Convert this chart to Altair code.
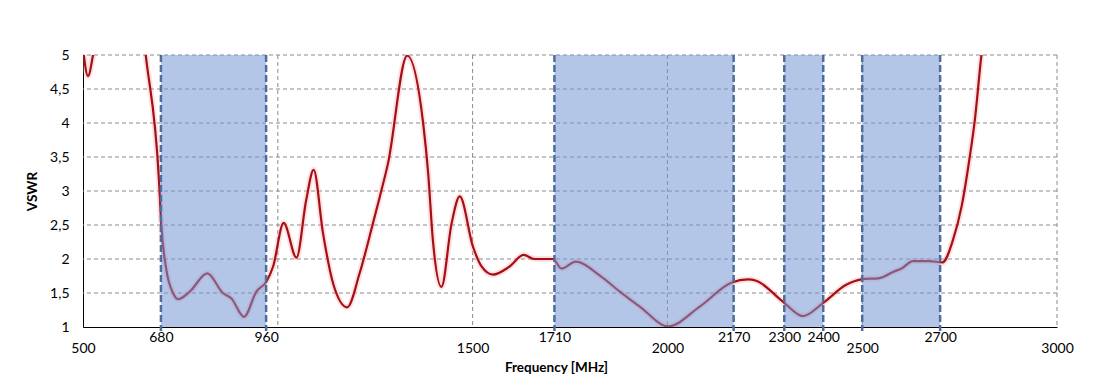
import altair as alt
import pandas as pd

# VSWR curve
freq = [500, 512.8, 525.7, 545, 600, 645, 661, 695, 701, 714, 731, 744, 774, 819, 859, 881, 913, 945, 971, 988,
        1015, 1048, 1073, 1092, 1116, 1142, 1178, 1210, 1244, 1262, 1283, 1332, 1373, 1386, 1398, 1420, 1446, 1467,
        1501, 1523, 1552, 1595, 1631, 1659, 1689, 1706, 1728, 1765, 1826, 1878, 1929, 2002, 2083, 2164, 2207, 2228,
        2297, 2348, 2399, 2459, 2498, 2545, 2579, 2601, 2630, 2673, 2706, 2733, 2755, 2776, 2789, 2806, 2825]
vswr = [5.1, 4.69, 5.0, 5.8, 6.4, 5.8, 5.0, 3.16, 2.5, 1.84, 1.50, 1.41, 1.52, 1.79, 1.50, 1.42, 1.15, 1.52, 1.67, 1.89,
        2.53, 2.02, 2.87, 3.31, 2.38, 1.64, 1.29, 1.79, 2.52, 2.92, 3.41, 4.99, 4.0, 3.26, 2.28, 1.59, 2.52, 2.92,
        2.18, 1.89, 1.77, 1.89, 2.06, 2.0, 2.0, 2.0, 1.86, 1.96, 1.76, 1.52, 1.30, 1.01, 1.30, 1.65, 1.70, 1.68,
        1.37, 1.16, 1.35, 1.62, 1.70, 1.72, 1.81, 1.86, 1.97, 1.97, 1.95, 2.28, 2.77, 3.50, 4.04, 5.0, 5.8]

# frequency bands (positions as drawn) and their edge labels
band_start = [700, 1710, 2300, 2500]
band_end = [970, 2170, 2400, 2700]
edge_pos = [700, 970, 1710, 2170, 2300, 2400, 2700]
edge_text = ["680", "960", "1710", "2170", "2300", "2400", "2700"]
main_ticks = [500, 1500, 2000, 2500, 3000]
vgrid_vals = [1000, 1500, 2000, 2500, 3000]
y_ticks = [1, 1.5, 2, 2.5, 3, 3.5, 4, 4.5, 5]
hgrid_vals = [1.5, 2, 2.5, 3, 3.5, 4, 4.5, 5]

W, H = 974, 272
FONT = "Lato"

curve = pd.DataFrame({"f": freq, "v": vswr})
bands = pd.DataFrame({"s": band_start, "e": band_end})
edges = pd.DataFrame({"e": sorted(set(band_start + band_end))})

xs = alt.Scale(domain=[500, 3000], nice=False, zero=False)
ys = alt.Scale(domain=[1, 5], nice=False, zero=False)

label_map = " ".join(f"datum.value == {p} ? '{t}' :" for p, t in zip(edge_pos, edge_text))
label_expr = f"{label_map} format(datum.value, 'd')"
lower_test = "indexof([" + ",".join(str(v) for v in main_ticks) + "], datum.value) >= 0"
x_values = sorted(main_ticks + edge_pos)

x_axis = alt.Axis(
    values=x_values,
    labelExpr=label_expr,
    labelPadding={"condition": {"test": lower_test, "value": 14}, "value": 3},
    labelBaseline="top",
    labelFlush=False,
    labelOverlap=False,
    ticks=False,
    grid=False,
    domainColor="#000000",
    domainWidth=1,
    labelFont=FONT,
    labelFontSize=14,
    labelColor="#000000",
    title="Frequency [MHz]",
    titleFont=FONT,
    titleFontSize=13.5,
    titleFontWeight="bold",
    titleColor="#000000",
    titlePadding=5,
    titleX=473,
)
y_axis = alt.Axis(
    values=y_ticks,
    labelExpr="replace(format(datum.value, ''), '.', ',')",
    ticks=False,
    grid=False,
    labelPadding=14,
    domainColor="#000000",
    domainWidth=1,
    labelFont=FONT,
    labelFontSize=14,
    labelColor="#000000",
    title="VSWR",
    titleFont=FONT,
    titleFontSize=13.5,
    titleFontWeight="bold",
    titleColor="#000000",
    titlePadding=10,
)

line = alt.Chart(curve).mark_line(
    color="#a50f16", strokeWidth=2.2, interpolate="monotone", clip=True
).encode(x=alt.X("f:Q", scale=xs, axis=x_axis), y=alt.Y("v:Q", scale=ys, axis=y_axis))

glow = alt.Chart(curve).mark_line(
    color="#ff9c9c", strokeWidth=6, opacity=0.3, interpolate="monotone", clip=True
).encode(x=alt.X("f:Q", scale=xs, axis=x_axis), y=alt.Y("v:Q", scale=ys, axis=y_axis))

vgrid = alt.Chart(pd.DataFrame({"f": vgrid_vals})).mark_rule(
    color="#8a8a8a", strokeWidth=1, strokeDash=[4, 3]
).encode(x=alt.X("f:Q", scale=xs, axis=x_axis))

hgrid = alt.Chart(pd.DataFrame({"v": hgrid_vals})).mark_rule(
    color="#8a8a8a", strokeWidth=1, strokeDash=[4, 3]
).encode(y=alt.Y("v:Q", scale=ys, axis=y_axis))

band = alt.Chart(bands).mark_rect(color="#7797d3", opacity=0.55).encode(
    x=alt.X("s:Q", scale=xs, axis=x_axis), x2="e:Q", y=alt.value(0), y2=alt.value(H)
)

edge = alt.Chart(edges).mark_rule(color="#4f6d9c", strokeWidth=2.5, strokeDash=[7, 3]).encode(
    x=alt.X("e:Q", scale=xs, axis=x_axis), y=alt.value(0), y2=alt.value(H + 4)
)

chart = alt.layer(vgrid, hgrid, glow, line, band, edge).properties(
    width=W,
    height=H,
    padding={"left": 75, "top": 47, "right": 45, "bottom": 52},
    autosize=alt.AutoSizeParams(type="none"),
    background="#ffffff",
).configure_view(stroke=None)

chart.save("out.html", embed_options={"renderer": "svg", "actions": False})
